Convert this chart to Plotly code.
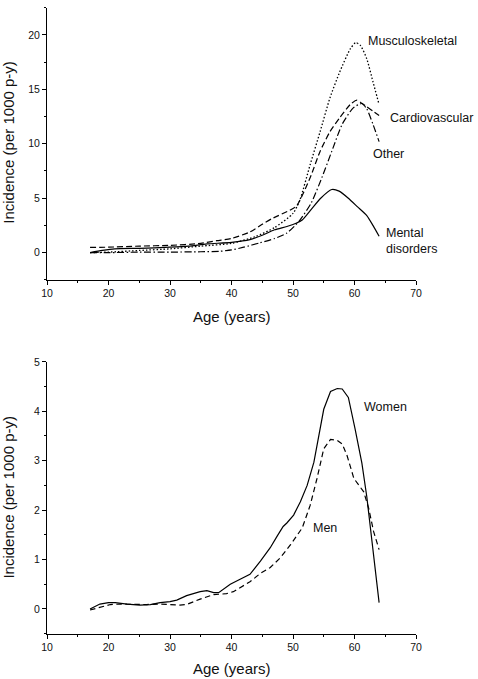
import plotly.graph_objects as go

# ---------------- Top panel: incidence by diagnosis ----------------
mental_age = [17, 19, 21, 25, 30, 33, 36, 40, 43, 45, 47, 49, 50.5, 51.5, 53, 54.5, 56.3, 57.5, 59, 60.5, 62, 63, 64]
mental_val = [0.0, 0.2, 0.35, 0.4, 0.5, 0.6, 0.8, 0.95, 1.2, 1.6, 2.1, 2.4, 2.7, 3.0, 4.0, 5.0, 5.8, 5.65, 5.0, 4.2, 3.4, 2.5, 1.5]

musc_age = [17, 20, 25, 30, 35, 40, 44, 47, 50, 51.1, 52.8, 54.4, 56, 57.6, 59.3, 60.2, 61, 62, 63, 64]
musc_val = [0.0, 0.05, 0.2, 0.35, 0.6, 0.85, 1.5, 2.3, 3.6, 4.8, 8.1, 11.1, 14.2, 16.6, 18.7, 19.3, 19.0, 17.8, 15.7, 13.6]

cardio_age = [17, 20, 25, 30, 35, 37.6, 40, 43, 45, 46.5, 49.5, 50.6, 52.8, 54.4, 56, 57.6, 59.3, 60.3, 61, 62, 63, 64]
cardio_val = [0.48, 0.5, 0.6, 0.67, 0.85, 1.1, 1.3, 1.9, 2.6, 3.1, 3.9, 4.3, 6.9, 9.3, 11.1, 12.4, 13.6, 14.0, 13.8, 13.4, 13.0, 12.6]

other_age = [17, 20, 25, 30, 35, 38, 40, 42, 44.6, 47, 49, 51, 53, 54.7, 56.3, 58, 59.8, 61.2, 62, 63, 64]
other_val = [0.0, 0.0, 0.05, 0.05, 0.08, 0.12, 0.25, 0.5, 0.9, 1.3, 1.8, 2.9, 4.6, 6.9, 9.3, 11.8, 13.3, 13.7, 13.2, 11.8, 10.2]

# ---------------- Bottom panel: incidence by sex ----------------
women_age = [17, 18.6, 20, 21.1, 23, 25.1, 26.8, 28.4, 30, 31.1, 32.7, 34.9, 36, 37.1, 37.9, 39.8, 41.4, 43,
             44.7, 46.3, 47.4, 48.4, 49, 50.1, 51.2, 52.3, 53.4, 55, 56.1, 57.2, 58, 59, 60.1, 61.2, 62, 62.8, 64]
women_val = [0, 0.1, 0.13, 0.13, 0.1, 0.08, 0.09, 0.13, 0.15, 0.18, 0.27, 0.35, 0.37, 0.33, 0.33, 0.5, 0.6, 0.7,
             0.97, 1.24, 1.47, 1.67, 1.74, 1.9, 2.17, 2.5, 2.97, 4.04, 4.4, 4.46, 4.45, 4.28, 3.64, 2.95, 2.27, 1.45, 0.13]

men_age = [17, 18.6, 20.3, 21.9, 24.1, 26.2, 28.4, 30, 31.6, 32.7, 34.9, 37.1, 39.2, 40.3, 41.4, 43, 44.7, 46.3,
           47.9, 49.6, 51.5, 52.8, 53.9, 55, 56.1, 57.2, 58, 58.8, 59.9, 61.5, 62.3, 63.1, 64]
men_val = [-0.02, 0.03, 0.09, 0.1, 0.09, 0.09, 0.1, 0.09, 0.08, 0.09, 0.2, 0.29, 0.31, 0.35, 0.43, 0.55, 0.72, 0.84,
           1.03, 1.3, 1.64, 2.1, 2.64, 3.24, 3.43, 3.41, 3.34, 3.1, 2.64, 2.37, 2.04, 1.57, 1.2]

FONT = "Liberation Sans, Arial, sans-serif"
LW = 1.2

fig = go.Figure()

def add(x, y, dash, xa, ya, shape="spline", width=LW):
    fig.add_trace(go.Scatter(x=x, y=y, mode="lines", xaxis=xa, yaxis=ya,
                             line=dict(color="black", width=width, dash=dash, shape=shape, smoothing=0.6),
                             showlegend=False, hoverinfo="skip"))

add(musc_age, musc_val, "1.5px,2px", "x", "y", width=1.3)
add(cardio_age, cardio_val, "6px,3px", "x", "y")
add(other_age, other_val, "7px,2.5px,1.5px,2.5px", "x", "y")
add(mental_age, mental_val, "solid", "x", "y")

add(men_age, men_val, "5.5px,3.5px", "x2", "y2", "linear")
add(women_age, women_val, "solid", "x2", "y2", "linear")

H = 679.0
top_dom = [1 - 276.3 / H, 1 - 1.7 / H]
bot_dom = [1 - 633.3 / H, 1 - 359.0 / H]

xcommon = dict(range=[10, 70], dtick=10, tick0=10, showgrid=False, zeroline=False,
               showline=True, linecolor="black", linewidth=1, ticks="outside", ticklen=4,
               tickwidth=1, tickcolor="black",
               tickfont=dict(family=FONT, size=10.5, color="#111"),
               minor=dict(ticks="outside", ticklen=2.5, dtick=5, tick0=10, tickcolor="black", showgrid=False))

ycommon = dict(showgrid=False, zeroline=False, showline=True, linecolor="black", linewidth=1,
               ticks="outside", ticklen=4, tickwidth=1, tickcolor="black",
               tickfont=dict(family=FONT, size=10.5, color="#111"))

fig.update_layout(
    width=478, height=679,
    margin=dict(l=47, r=62, t=0, b=0),
    paper_bgcolor="white", plot_bgcolor="white",
    xaxis=dict(domain=[0, 1], anchor="y", **xcommon),
    yaxis=dict(domain=top_dom, anchor="x", range=[-2.5, 22.5], dtick=5, tick0=0,
               minor=dict(ticks="outside", ticklen=2.5, dtick=2.5, tick0=0, tickcolor="black", showgrid=False),
               **ycommon),
    xaxis2=dict(domain=[0, 1], anchor="y2", **xcommon),
    yaxis2=dict(domain=bot_dom, anchor="x2", range=[-0.5, 5], dtick=1, tick0=0,
                minor=dict(ticks="outside", ticklen=2.5, dtick=0.5, tick0=0, tickcolor="black", showgrid=False),
                **ycommon),
)

lab = dict(family=FONT, size=12.5, color="#111")
ann = [
    dict(text="Musculoskeletal", x=62.0, y=19.4, xref="x", yref="y"),
    dict(text="Cardiovascular", x=65.6, y=12.36, xref="x", yref="y"),
    dict(text="Other", x=62.9, y=9.03, xref="x", yref="y"),
    dict(text="Mental<br>disorders", x=65.0, y=1.03, xref="x", yref="y"),
    dict(text="Women", x=61.3, y=4.09, xref="x2", yref="y2"),
    dict(text="Men", x=53.15, y=1.64, xref="x2", yref="y2"),
]
for a in ann:
    fig.add_annotation(showarrow=False, xanchor="left", yanchor="middle", align="left",
                       font=lab, borderpad=0, **a)

# axis titles
tfont = dict(family=FONT, size=15, color="#111")
for yc_px in (313.3, 668.3):
    fig.add_annotation(text="Age (years)", xref="paper", yref="paper", x=0.5, y=1 - yc_px / H,
                       showarrow=False, xanchor="center", yanchor="middle", font=tfont)
for yc_px in (138.0, 496.0):
    fig.add_annotation(text="Incidence (per 1000 p-y)", xref="paper", yref="paper",
                       x=(9 - 47) / (478 - 47 - 62), y=1 - yc_px / H, textangle=-90,
                       showarrow=False, xanchor="center", yanchor="middle", font=tfont)

fig.write_html("out.html", config={"displayModeBar": False},
               post_script="document.body.style.margin='0px';")
